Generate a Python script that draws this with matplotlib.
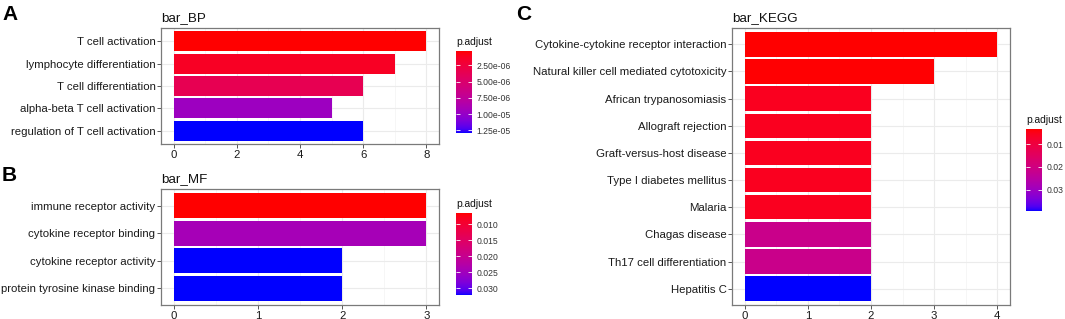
# enrichment bar charts (BP / MF / KEGG), ggplot-like look
import numpy as np
import matplotlib
matplotlib.use("Agg")
import matplotlib.pyplot as plt
from matplotlib.colors import ListedColormap, Normalize
from matplotlib.cm import ScalarMappable
from matplotlib.ticker import MultipleLocator

plt.rcParams['font.family'] = ['Liberation Sans', 'DejaVu Sans']

# ---- data ----
bp_terms = ["T cell activation", "lymphocyte differentiation", "T cell differentiation",
            "alpha-beta T cell activation", "regulation of T cell activation"]
bp_counts = [8, 7, 6, 5, 6]
bp_padj = [2.95e-7, 1.3e-6, 3.6e-6, 9.6e-6, 1.29e-5]

mf_terms = ["immune receptor activity", "cytokine receptor binding",
            "cytokine receptor activity", "protein tyrosine kinase binding"]
mf_counts = [3, 3, 2, 2]
mf_padj = [0.00656, 0.0245, 0.0321, 0.0321]

kegg_terms = ["Cytokine-cytokine receptor interaction", "Natural killer cell mediated cytotoxicity",
              "African trypanosomiasis", "Allograft rejection", "Graft-versus-host disease",
              "Type I diabetes mellitus", "Malaria", "Chagas disease",
              "Th17 cell differentiation", "Hepatitis C"]
kegg_counts = [4, 3, 2, 2, 2, 2, 2, 2, 2, 2]
kegg_padj = [0.00343, 0.0037, 0.0058, 0.0058, 0.0058, 0.0058, 0.0058, 0.0215, 0.0215, 0.0392]

bp_cticks = [2.5e-6, 5e-6, 7.5e-6, 1e-5, 1.25e-5]
mf_cticks = [0.010, 0.015, 0.020, 0.025, 0.030]
kegg_cticks = [0.01, 0.02, 0.03]

W, H = 1065, 319

# red -> blue gradient interpolated in CIELAB like ggplot
M = np.array([[0.4124564, 0.3575761, 0.1804375],
              [0.2126729, 0.7151522, 0.0721750],
              [0.0193339, 0.1191920, 0.9503041]])
WHITE = np.array([0.95047, 1.0, 1.08883])
D = 6 / 29


def srgb_to_lab(rgb):
    rgb = np.asarray(rgb, float)
    lin = np.where(rgb <= 0.04045, rgb / 12.92, ((rgb + 0.055) / 1.055) ** 2.4)
    xyz = lin @ M.T / WHITE
    f = np.where(xyz > D ** 3, np.cbrt(xyz), xyz / (3 * D * D) + 4 / 29)
    return np.stack([116 * f[..., 1] - 16, 500 * (f[..., 0] - f[..., 1]),
                     200 * (f[..., 1] - f[..., 2])], -1)


def lab_to_srgb(lab):
    fy = (lab[..., 0] + 16) / 116
    f = np.stack([fy + lab[..., 1] / 500, fy, fy - lab[..., 2] / 200], -1)
    xyz = np.where(f > D, f ** 3, 3 * D * D * (f - 4 / 29)) * WHITE
    lin = xyz @ np.linalg.inv(M).T
    lin = np.clip(lin, 0, None)
    rgb = np.where(lin <= 0.0031308, 12.92 * lin, 1.055 * lin ** (1 / 2.4) - 0.055)
    return np.clip(rgb, 0, 1)


t = np.linspace(0, 1, 256)[:, None]
lab = (1 - t) * srgb_to_lab([1, 0, 0]) + t * srgb_to_lab([0, 0, 1])
cmap = ListedColormap(lab_to_srgb(lab))


def px_rect(x0, y0, x1, y1):
    return [x0 / W, 1 - y1 / H, (x1 - x0) / W, (y1 - y0) / H]


def panel(fig, rect, cbrect, title, terms, counts, padj, step, cticks, cfmt):
    ax = fig.add_axes(px_rect(*rect))
    n = len(terms)
    y = np.arange(n)
    norm = Normalize(min(padj), max(padj))
    ax.barh(y, counts, height=0.9, color=cmap(norm(np.array(padj))), zorder=2)
    xmax = max(counts)
    ax.set_xlim(-0.05 * xmax, 1.05 * xmax)
    ax.set_ylim(n - 1 + 0.6, -0.6)
    ax.set_yticks(y)
    ax.set_yticklabels(terms)
    ax.xaxis.set_major_locator(MultipleLocator(step))
    ax.xaxis.set_minor_locator(MultipleLocator(step / 2))
    ax.grid(which='major', color='#EBEBEB', lw=0.8, zorder=0)
    ax.grid(which='minor', axis='x', color='#F3F3F3', lw=0.5, zorder=0)
    ax.set_axisbelow(True)
    for s in ax.spines.values():
        s.set_color('#7a7a7a')
        s.set_linewidth(0.9)
    ax.tick_params(which='major', length=3, width=0.7, color='#555555',
                   labelsize=8.2, labelcolor='#1a1a1a', pad=1)
    ax.tick_params(which='minor', length=0)
    ax.set_title(title, loc='left', fontsize=9.6, pad=5, color='#111111')

    cax = fig.add_axes(px_rect(*cbrect))
    cb = fig.colorbar(ScalarMappable(norm=norm, cmap=cmap), cax=cax)
    cb.outline.set_visible(False)
    cb.minorticks_off()
    cax.invert_yaxis()
    cb.set_ticks(cticks)
    cb.set_ticklabels([cfmt.format(v) for v in cticks])
    cax.tick_params(direction='in', length=3, width=0.6, color='white',
                    left=True, right=True, labelsize=6.2, labelcolor='#333333', pad=3)
    cax.set_title("p.adjust", loc='left', fontsize=7.4, pad=4.5, color='#111111')
    return ax


fig = plt.figure(figsize=(W / 100, H / 100), dpi=100)

panel(fig, (161, 28, 439, 144), (456, 51, 472, 133), "bar_BP",
      bp_terms, bp_counts, bp_padj, 2, bp_cticks, "{:.2e}")
panel(fig, (161, 189, 439, 305), (456, 213, 472, 295), "bar_MF",
      mf_terms, mf_counts, mf_padj, 1, mf_cticks, "{:.3f}")
panel(fig, (732, 28, 1010, 305), (1026, 129, 1042, 211), "bar_KEGG",
      kegg_terms, kegg_counts, kegg_padj, 1, kegg_cticks, "{:.2f}")

for letter, x, yb in [("A", 2, 20), ("B", 2, 181), ("C", 516, 20)]:
    fig.text(x / W, 1 - yb / H, letter, fontsize=15, fontweight='bold', va='baseline')

fig.savefig("out.png", dpi=100)
